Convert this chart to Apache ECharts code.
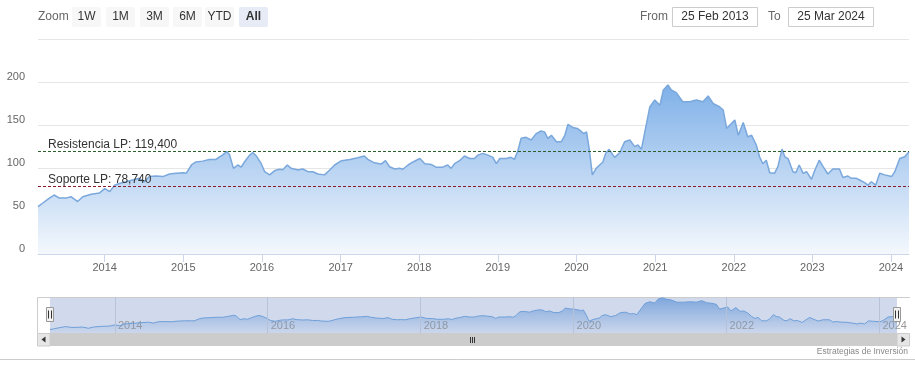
<!DOCTYPE html>
<html><head><meta charset="utf-8">
<script src="https://cdn.jsdelivr.net/npm/echarts@6/dist/echarts.min.js"></script>
<style>html,body{margin:0;padding:0;background:#fff}#c{width:915px;height:369px}</style>
</head><body><div id="c"></div>
<script>
const dates = ['2013-02-25','2013-03-18','2013-04-19','2013-05-11','2013-06-04','2013-07-05','2013-07-28','2013-08-28','2013-09-21','2013-10-30','2013-12-08',
'2014-01-01','2014-01-24','2014-02-16','2014-03-10','2014-04-10','2014-05-10','2014-06-11','2014-07-04','2014-07-27','2014-08-28','2014-09-28','2014-10-29','2014-11-29',
'2015-01-01','2015-01-15','2015-02-08','2015-03-01','2015-04-01','2015-05-02','2015-06-02','2015-06-18','2015-07-02','2015-07-21','2015-08-03','2015-08-22','2015-09-11','2015-09-27','2015-10-12','2015-11-05','2015-11-20','2015-12-06','2015-12-29',
'2016-01-14','2016-02-06','2016-03-01','2016-03-23','2016-04-07','2016-04-28','2016-05-16','2016-06-16','2016-07-09','2016-08-02','2016-08-25','2016-09-17','2016-10-18','2016-11-11','2016-12-04',
'2017-01-05','2017-02-13','2017-03-21','2017-04-21','2017-05-07','2017-06-07','2017-07-08','2017-07-28','2017-08-16','2017-09-09','2017-10-02','2017-10-17','2017-11-10','2017-12-03',
'2018-01-04','2018-01-27','2018-02-27','2018-03-20','2018-04-20','2018-05-13','2018-05-29','2018-06-14','2018-07-07','2018-07-30','2018-08-23','2018-09-15','2018-09-30','2018-10-24','2018-11-16','2018-12-09','2018-12-25',
'2019-01-10','2019-02-10','2019-03-03','2019-03-19','2019-04-03','2019-04-19','2019-05-12','2019-06-05','2019-06-28','2019-07-21','2019-08-06','2019-08-21','2019-09-07','2019-09-30','2019-10-23','2019-11-08','2019-11-23','2019-12-16',
'2020-01-05','2020-01-16','2020-02-04','2020-02-17','2020-03-01','2020-03-15','2020-04-02','2020-04-18','2020-05-03','2020-05-16','2020-06-01','2020-06-27','2020-07-20','2020-08-12','2020-09-05','2020-09-28','2020-10-13','2020-10-29','2020-11-14','2020-12-07','2020-12-30',
'2021-01-23','2021-02-08','2021-03-01','2021-03-17','2021-04-09','2021-05-09','2021-06-10','2021-07-11','2021-08-11','2021-09-04','2021-09-27','2021-10-28','2021-11-13','2021-11-29','2021-12-22',
'2022-01-06','2022-01-22','2022-02-14','2022-03-07','2022-03-25','2022-04-15','2022-05-01','2022-05-16','2022-06-01','2022-06-17','2022-07-09','2022-07-25','2022-08-13','2022-08-26','2022-09-10','2022-10-03','2022-10-16','2022-11-01','2022-11-19','2022-12-05','2022-12-28',
'2023-01-13','2023-02-02','2023-02-20','2023-03-14','2023-04-06','2023-05-07','2023-05-23','2023-06-15','2023-07-01','2023-07-24','2023-08-09','2023-09-01','2023-09-16','2023-10-02','2023-10-22','2023-11-10','2023-12-03',
'2024-01-04','2024-01-19','2024-02-11','2024-03-05','2024-03-25'];
const values = [55,59,65,68.6,65,65,66.6,61,66.6,69.4,71,
76,72.5,80,82,84,86,88,84,90,90.7,90,93,94,
94.5,94,103.5,107,108,110,110,113,115,119,116,99.6,103.5,101,107,115,118,114,105,
95.7,92,97,98.5,98,103.5,99.6,97.7,98.8,95.7,95.7,93,92,97.7,103.5,
108.5,110,112,114,110,106,104.6,108.5,101.5,98.8,99.6,98.5,103.5,107,
111,105,104,101,101,103.5,99.6,105,108.5,114,111,111,115,117,115,112.4,105,
111,111,112.4,110,119,134.5,135.7,132.6,140,143,142,134.5,138,130.6,130.6,138,150.8,147,
146,144,140,142,121,92,99.6,103.5,107,117,121.7,112.4,117.8,130.6,132.6,124.8,126.7,121.7,142,171,179,
173,190.7,196.5,190.7,187.6,177,177,179,177,183.7,175,171,167.4,146,152,
155.8,138,153,136.4,138,127,113,105,109,94.5,93.8,101.5,122,113,111,95.7,94.5,103.5,93.8,95.7,86.8,
97.7,109,101.5,93,98.8,98.8,89,90.7,88,88,86,83,80,84,80,93.8,92,
90,95.7,111,113,119];
const resistance = 119.4, resistanceLabel = 'Resistencia LP: 119,400';
const support = 78.74, supportLabel = 'Soporte LP: 78,740';
const yTicks = [0, 50, 100, 150, 200];
const navigatorYears = ['2014-01-01', '2016-01-01', '2018-01-01', '2020-01-01', '2022-01-01', '2024-01-01'];
const zoomButtons = ['1W', '1M', '3M', '6M', 'YTD', 'All'];
const fromText = '25 Feb 2013', toText = '25 Mar 2024';
const credit = 'Estrategias de Inversión';

const FONT = '"Liberation Sans", Arial, sans-serif';
const data = dates.map((d, i) => [d, values[i]]);
const DAY = 24 * 3600 * 1000;

const g = [];
g.push({type:'text', style:{text:'Zoom', x:38, y:17, fill:'#666', font:'12px '+FONT, textVerticalAlign:'middle'}});
const btnX = [72, 106, 140, 173, 205, 239];
zoomButtons.forEach((b, i) => {
  const sel = b === 'All';
  g.push({type:'rect', shape:{x:btnX[i], y:7, width:29, height:20, r:2}, style:{fill: sel ? '#e6ebf5' : '#f7f7f7'}});
  g.push({type:'text', style:{text:b, x:btnX[i]+14.5, y:17, fill:'#333', font:(sel?'bold ':'')+'12px '+FONT, textAlign:'center', textVerticalAlign:'middle'}});
});
g.push({type:'text', style:{text:'From', x:640, y:17, fill:'#666', font:'12px '+FONT, textVerticalAlign:'middle'}});
g.push({type:'rect', shape:{x:672.5, y:7.5, width:85, height:19}, style:{fill:'#fff', stroke:'#ccc', lineWidth:1}});
g.push({type:'text', style:{text:fromText, x:715, y:17, fill:'#333', font:'12px '+FONT, textAlign:'center', textVerticalAlign:'middle'}});
g.push({type:'text', style:{text:'To', x:768, y:17, fill:'#666', font:'12px '+FONT, textVerticalAlign:'middle'}});
g.push({type:'rect', shape:{x:788.5, y:7.5, width:85, height:19}, style:{fill:'#fff', stroke:'#ccc', lineWidth:1}});
g.push({type:'text', style:{text:toText, x:831, y:17, fill:'#333', font:'12px '+FONT, textAlign:'center', textVerticalAlign:'middle'}});
// navigator outline
g.push({type:'polyline', shape:{points:[[37.5,333],[37.5,297.5],[910,297.5]]}, style:{stroke:'#ccc', lineWidth:1, fill:null}});
// scrollbar
g.push({type:'rect', shape:{x:50, y:333, width:847, height:13}, style:{fill:'#cccccc'}});
g.push({type:'rect', shape:{x:37.5, y:333.5, width:12.5, height:12.5}, style:{fill:'#e6e6e6', stroke:'#ccc', lineWidth:1}});
g.push({type:'rect', shape:{x:897, y:333.5, width:12.5, height:12.5}, style:{fill:'#e6e6e6', stroke:'#ccc', lineWidth:1}});
g.push({type:'polygon', shape:{points:[[41.5,339.5],[45.5,336.5],[45.5,342.5]]}, style:{fill:'#333'}});
g.push({type:'polygon', shape:{points:[[905.5,339.5],[901.5,336.5],[901.5,342.5]]}, style:{fill:'#333'}});
[470.5, 472.5, 474.5].forEach(x => g.push({type:'line', shape:{x1:x, y1:337, x2:x, y2:343}, style:{stroke:'#333', lineWidth:1}}));
// handles
[50, 897].forEach(x => {
  g.push({type:'rect', z:100, shape:{x:x-3.5, y:307.5, width:7, height:14}, style:{fill:'#f2f2f2', stroke:'#999', lineWidth:1}});
  g.push({type:'line', z:101, shape:{x1:x-1.5, y1:310.5, x2:x-1.5, y2:318.5}, style:{stroke:'#333', lineWidth:1}});
  g.push({type:'line', z:101, shape:{x1:x+1.5, y1:310.5, x2:x+1.5, y2:318.5}, style:{stroke:'#333', lineWidth:1}});
});
// bottom line & credit
g.push({type:'line', shape:{x1:0, y1:359.5, x2:915, y2:359.5}, style:{stroke:'#ccc', lineWidth:1}});
g.push({type:'text', style:{text:credit, x:908, y:352, fill:'#888', font:'8.5px '+FONT, textAlign:'right', textVerticalAlign:'middle'}});

const chart = echarts.init(document.getElementById('c'), null, {renderer:'canvas'});
chart.setOption({
  animation:false,
  backgroundColor:'#fff',
  textStyle:{fontFamily:FONT},
  grid:[
    {left:38, right:6, top:39, height:215},
    {left:50, right:18, top:297, height:36, show:true, backgroundColor:'rgba(102,133,194,0.3)', borderWidth:0}
  ],
  xAxis:[
    {type:'time', gridIndex:0, min:'2013-02-25', max:'2024-03-25',
     minInterval:365*DAY, maxInterval:366*DAY,
     axisLine:{lineStyle:{color:'#ccd6eb'}}, axisTick:{show:true, length:8, lineStyle:{color:'#ccd6eb'}},
     axisLabel:{color:'#666', fontSize:11, margin:8, formatter:'{yyyy}', showMinLabel:false, showMaxLabel:false, hideOverlap:false},
     splitLine:{show:false}},
    {type:'time', gridIndex:1, min:'2013-02-25', max:'2024-03-25',
     minInterval:365*DAY, maxInterval:366*DAY,
     axisLine:{show:false}, axisTick:{show:false},
     axisLabel:{inside:true, align:'left', padding:[0,0,0,3], margin:2, color:'#999', fontSize:11,
       formatter:v => { const y = new Date(v).getFullYear(); return y % 2 === 0 ? String(y) : ''; },
       showMinLabel:false, showMaxLabel:false, hideOverlap:false},
     splitLine:{show:false}}
  ],
  yAxis:[
    {type:'value', gridIndex:0, min:0, max:250, interval:50,
     axisLine:{show:false}, axisTick:{show:false},
     axisLabel:{color:'#666', fontSize:11, margin:13, verticalAlign:'bottom',
       formatter:v => yTicks.indexOf(v) >= 0 ? String(v) : ''},
     splitLine:{lineStyle:{color:'#e6e6e6'}}},
    {type:'value', gridIndex:1, min:40, max:200, show:false, splitLine:{show:false}}
  ],
  series:[
    {type:'line', xAxisIndex:0, yAxisIndex:0, data:data, showSymbol:false, symbol:'none',
     lineStyle:{color:'#7aa8dc', width:1.5},
     areaStyle:{color:new echarts.graphic.LinearGradient(0,0,0,1,[{offset:0,color:'#7fb0e8'},{offset:1,color:'#f4f8fd'}]), opacity:1},
     markLine:{silent:true, symbol:'none', animation:false,
       label:{position:'insideStartTop', color:'#333', fontSize:12, distance:[10,1], fontFamily:FONT},
       data:[
         {yAxis:resistance, lineStyle:{color:'#2a5e2a', type:[3,2], width:1}, label:{formatter:resistanceLabel}},
         {yAxis:support, lineStyle:{color:'#8b1c2c', type:[3,2], width:1}, label:{formatter:supportLabel}}
       ]}},
    {type:'line', xAxisIndex:1, yAxisIndex:1, data:data, showSymbol:false, symbol:'none',
     lineStyle:{color:'#6f9fd8', width:1},
     areaStyle:{color:new echarts.graphic.LinearGradient(0,0,0,1,[{offset:0,color:'rgba(100,150,215,0.75)'},{offset:1,color:'rgba(100,150,215,0.05)'}]), opacity:1},
     markLine:{silent:true, symbol:'none', animation:false, label:{show:false},
       lineStyle:{color:'#b8c2d6', type:'solid', width:1},
       data:navigatorYears.map(d => ({xAxis:d}))}}
  ],
  graphic:g
});
</script></body></html>
